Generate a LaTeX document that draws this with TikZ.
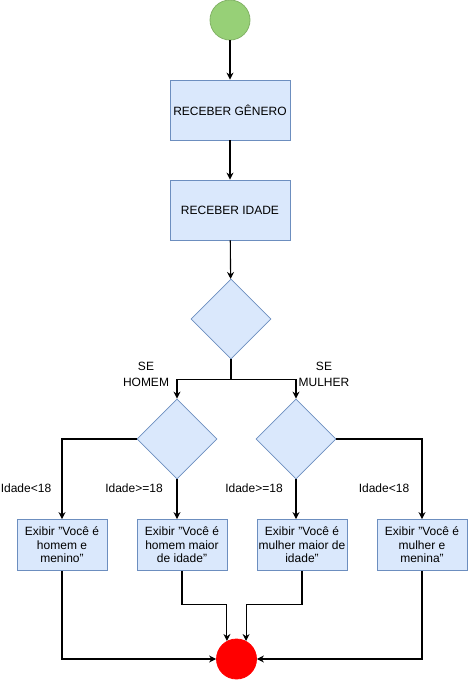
\documentclass[tikz,border=0pt]{standalone}
\usepackage{fontspec}
\setmainfont{Liberation Sans}
\usetikzlibrary{arrows.meta,shapes.geometric}
\definecolor{fc_blue}{HTML}{DAE8FC}
\definecolor{fc_blueline}{HTML}{6C8EBF}
\definecolor{fc_green}{HTML}{97D077}
\definecolor{fc_greenline}{HTML}{82B366}
\definecolor{fc_red}{HTML}{FF0000}
\tikzstyle{bx}=[rectangle,fill=fc_blue,draw=fc_blueline,line width=0.8pt,
  align=center,font=\fontsize{12}{13.5}\selectfont,inner sep=1pt,
  minimum width=90pt,minimum height=51pt]
\tikzstyle{dm}=[diamond,fill=fc_blue,draw=fc_blueline,line width=0.8pt,
  minimum width=80pt,minimum height=80pt,inner sep=0pt]
\tikzstyle{st}=[circle,fill=fc_green,draw=fc_greenline,line width=0.8pt,
  minimum size=40pt,inner sep=0pt]
\tikzstyle{en}=[circle,fill=fc_red,draw=fc_red,line width=0.8pt,
  minimum size=40pt,inner sep=0pt]
\tikzstyle{lb}=[align=center,font=\fontsize{12}{16}\selectfont,inner sep=0pt]
\tikzstyle{ar}=[line width=1.1pt,-{Stealth[length=7pt,width=7pt]}]

\begin{document}
\begin{tikzpicture}[x=1pt, y=-1pt]
            \useasboundingbox (0, 0) rectangle (468, 680);
            \node [style=st] (0) at (230, 20) {};
            \node [style=bx, minimum width=120pt, minimum height=60pt] (1) at (230, 110) {RECEBER GÊNERO};
            \node [style=bx, minimum width=120pt, minimum height=60pt] (2) at (230, 210) {RECEBER IDADE};
            \node [style=dm] (3) at (231, 319) {};
            \node [style=dm] (4) at (177, 439) {};
            \node [style=dm] (5) at (296, 439) {};
            \node [style=bx] (6) at (62, 545) {Exibir "Você é\\homem e\\menino"};
            \node [style=bx] (7) at (182, 545) {Exibir "Você é\\homem maior\\de idade"};
            \node [style=bx] (8) at (302, 545) {Exibir "Você é\\mulher maior de\\idade"};
            \node [style=bx] (9) at (422, 545) {Exibir "Você é\\mulher e\\menina"};
            \node [style=en] (10) at (236.5, 659) {};
            \node [style=lb] (11) at (146, 374) {SE\\HOMEM};
            \node [style=lb] (12) at (324, 374) {SE\\MULHER};
            \node [style=lb] (13) at (26, 488) {Idade<18};
            \node [style=lb] (14) at (134, 488) {Idade>=18};
            \node [style=lb] (15) at (254, 488) {Idade>=18};
            \node [style=lb] (16) at (384, 488) {Idade<18};
            \draw [style=ar] (0) to (1);
            \draw [style=ar] (1) to (2);
            \draw [style=ar] (2) to (3);
            \draw [style=ar] (3.south) -- ++(0, 20) -| (4.north);
            \draw [style=ar] (3.south) -- ++(0, 20) -| (5.north);
            \draw [style=ar] (4.west) -| (6.north);
            \draw [style=ar] (4.south) -- (4.south |- 7.north);
            \draw [style=ar] (5.south) -- (5.south |- 8.north);
            \draw [style=ar] (5.east) -| (9.north);
            \draw [style=ar] (6.south) |- (10.west);
            \draw [style=ar] (9.south) |- (10.east);
            \draw [style=ar] (7.south) -- ++(0, 34) -| (10.118);
            \draw [style=ar] (8.south) -- ++(0, 34) -| (10.62);
    \end{tikzpicture}
\end{document}
